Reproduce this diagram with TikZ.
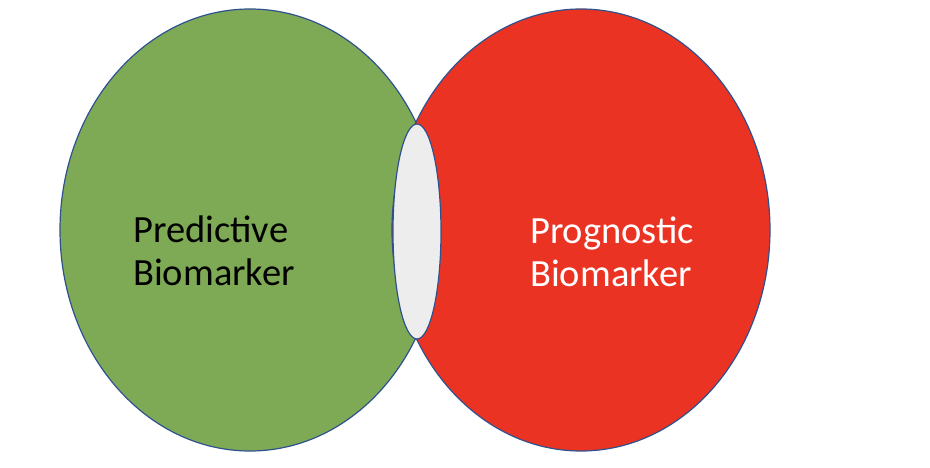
\documentclass[tikz,border=0pt]{standalone}
\usepackage{fontspec}
\setmainfont{Carlito}
\definecolor{vgreen}{HTML}{7EAA55}
\definecolor{vred}{HTML}{EB3324}
\definecolor{vedge}{HTML}{2F528F}
\definecolor{vlens}{HTML}{EDEDED}
\begin{document}
\begin{tikzpicture}[x=1pt,y=-1pt,
  setshape/.style={draw=vedge,line width=1.2pt},
  label/.style={anchor=base west,align=left,inner sep=0pt,
    font=\fontsize{38.5}{43}\selectfont}]
\useasboundingbox[fill=white] (0,0) rectangle (930,468);
\path[setshape,fill=vgreen] (250,230) ellipse [x radius=190, y radius=221];
\path[setshape,fill=vred] (581,230) ellipse [x radius=189, y radius=221];
\path[setshape,fill=vlens] (417,231.5) ellipse [x radius=24, y radius=107.5];
\node[label,text=black] (pred) at (133,285) {Predictive\\Biomarker};
\node[label,text=white] (prog) at (530,286) {Prognostic\\Biomarker};
\end{tikzpicture}
\end{document}
